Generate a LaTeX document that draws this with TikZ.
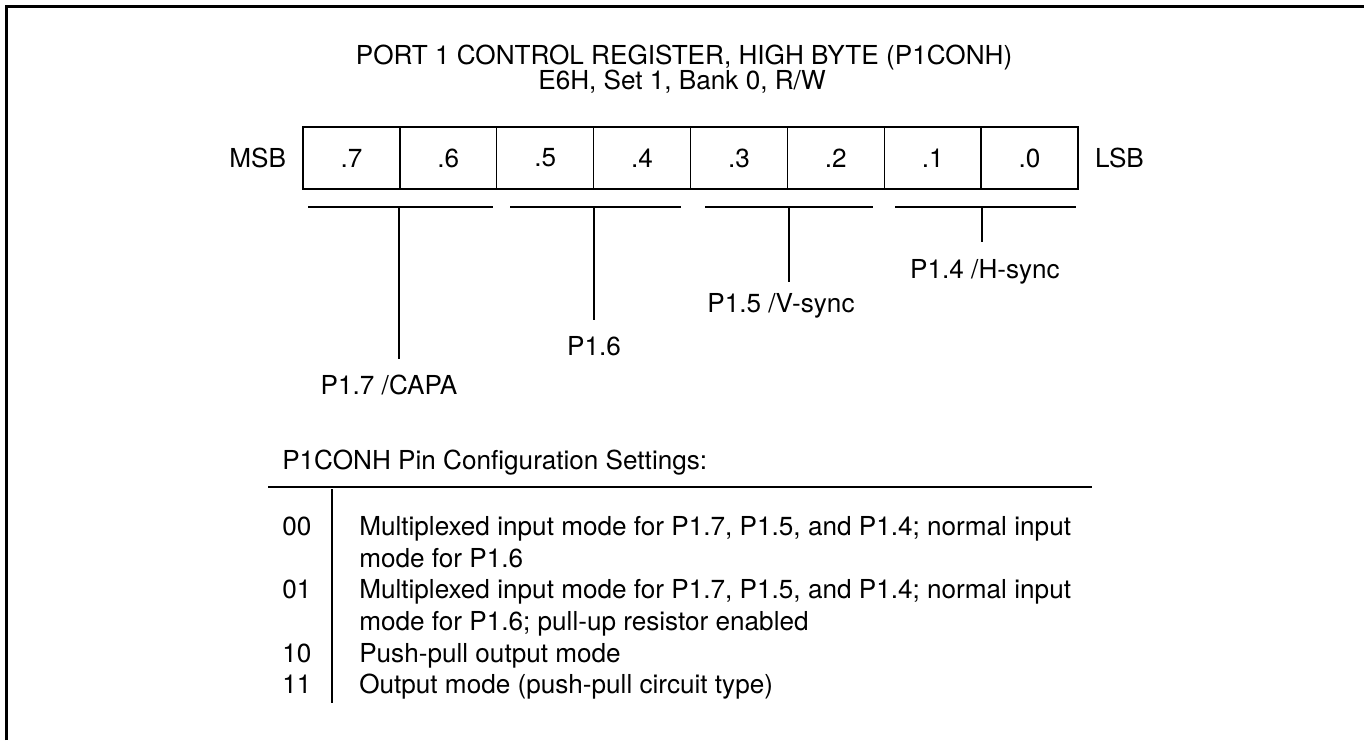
\documentclass[tikz,border=0pt]{standalone}
\usepackage{fontspec}
\setmainfont{TeX Gyre Heros}
\usetikzlibrary{positioning}
\newcommand{\regfont}{\fontsize{19.6}{24}\selectfont}
\tikzset{
  regcell/.style={draw,line width=1.1pt,minimum width=72.66pt,minimum height=46.5pt,
    inner sep=0pt,font=\regfont},
  txt/.style={font=\regfont,inner sep=0pt},
  conn/.style={line width=1.1pt},
}

\begin{document}
\begin{tikzpicture}[x=0.75pt,y=-0.75pt]
  \useasboundingbox (0,0) rectangle (1364,740);
  % --- frame ---
  \draw[line width=1.6pt] (6.5,740) -- (6.5,6.5) -- (1364,6.5);

  % --- title ---
  \node[txt] (title) at (684,58) {PORT 1 CONTROL REGISTER, HIGH BYTE (P1CONH)};
  \node[txt] (addr)  at (682,82) {E6H, Set 1, Bank 0, R/W};

  % --- register bits ---
  \foreach \b [count=\i from 0] in {7,...,0}
    \node[regcell] (c\b) at (351.44+96.875*\i,158) {.\b};
  \node[txt,left=12pt of c7]  (msb) {MSB};
  \node[txt,right=12pt of c0] (lsb) {LSB};

  % --- field brackets ---
  \draw[conn] (308,207) -- (493,207);
  \draw[conn] (510,207) -- (681,207);
  \draw[conn] (705,207) -- (873,207);
  \draw[conn] (895,207) -- (1076,207);
  \coordinate (g1) at (399,207);
  \coordinate (g2) at (594,207);
  \coordinate (g3) at (789,207);
  \coordinate (g4) at (982,207);
  \coordinate (s1) at (399,359);
  \coordinate (s2) at (594,320);
  \coordinate (s3) at (789,282);
  \coordinate (s4) at (982,242);
  \draw[conn] (g1) -- (s1);
  \draw[conn] (g2) -- (s2);
  \draw[conn] (g3) -- (s3);
  \draw[conn] (g4) -- (s4);
  \node[txt] (capa)  at (389,385) {P1.7 /CAPA};
  \node[txt] (p16)   at (594,346) {P1.6};
  \node[txt] (vsync) at (781,306) {P1.5 /V-sync};
  \node[txt] (hsync) at (985,272) {P1.4 /H-sync};

  % --- configuration table ---
  \node[txt,anchor=base west] (cfg) at (282,469) {P1CONH Pin Configuration Settings:};
  \draw[conn] (268,487) -- (1092,487);
  \draw[conn] (332,489) -- (332,703);
  \node[txt,anchor=base west] (k00) at (282,535) {00};
  \node[txt,anchor=base west] (k01) at (282,598) {01};
  \node[txt,anchor=base west] (k10) at (282,662) {10};
  \node[txt,anchor=base west] (k11) at (282,693) {11};
  \node[txt,anchor=base west] (d00a) at (359,535) {Multiplexed input mode for P1.7, P1.5, and P1.4; normal input};
  \node[txt,anchor=base west] (d00b) at (359,567) {mode for P1.6};
  \node[txt,anchor=base west] (d01a) at (359,598) {Multiplexed input mode for P1.7, P1.5, and P1.4; normal input};
  \node[txt,anchor=base west] (d01b) at (359,630) {mode for P1.6; pull-up resistor enabled};
  \node[txt,anchor=base west] (d10)  at (359,662) {Push-pull output mode};
  \node[txt,anchor=base west] (d11)  at (359,693) {Output mode (push-pull circuit type)};
\end{tikzpicture}
\end{document}
